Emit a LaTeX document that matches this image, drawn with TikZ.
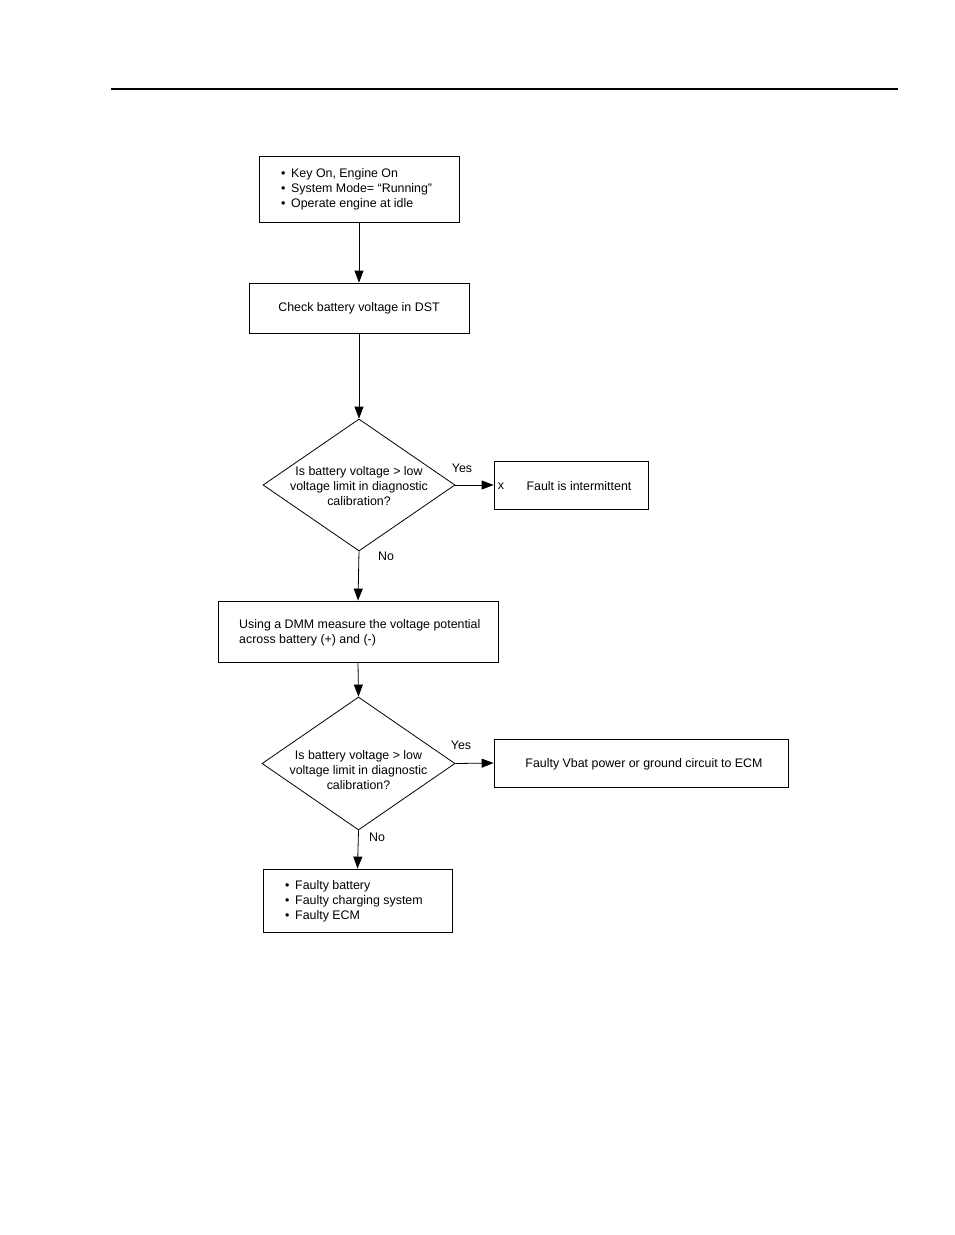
\documentclass[tikz,border=0pt]{standalone}
\usepackage{fontspec}
\setmainfont{Liberation Sans}
\usetikzlibrary{shapes.geometric,arrows.meta}
\newcommand{\bl}{\makebox[10pt][l]{\textbullet}}
\begin{document}
\begin{tikzpicture}[x=1pt,y=-1pt,
  every node/.style={font=\fontsize{12.4}{15}\selectfont},
  box/.style={draw,line width=0.8pt,rectangle,inner sep=0pt},
  dia/.style={draw,line width=0.8pt,diamond,inner sep=0pt},
  txt/.style={inner sep=0pt,align=center},
  lbl/.style={inner sep=0pt},
  arr/.style={line width=0.8pt,-{Triangle[length=12pt,width=9pt]}},
  bul/.style={inner sep=0pt,align=left,anchor=west}]
\useasboundingbox (0,0) rectangle (954,1235);
\fill[white] (0,0) rectangle (954,1235);
\coordinate (hl) at (111,89);
\coordinate (hr) at (898,89);
\draw[line width=1.3pt] (hl) -- (hr);

% Box 1
\node[box,minimum width=200pt,minimum height=66pt] (b1) at (359,189) {};
\node[bul] (t1) at (281,189) {\bl Key On, Engine On\\\bl System Mode= “Running”\\\bl Operate engine at idle};

% Box 2
\node[box,minimum width=220pt,minimum height=50pt] (b2) at (359,308) {};
\node[txt] (t2) at (359,308) {Check battery voltage in DST};

% Diamond 1
\node[dia,minimum width=192pt,minimum height=132pt] (d1) at (359,485) {};
\node[txt] (td1) at (359,486) {Is battery voltage > low\\voltage limit in diagnostic\\calibration?};

% Box 3
\node[box,minimum width=154pt,minimum height=48pt] (b3) at (571,485) {};
\node[lbl] (x3) at (501,486) {x};
\node[txt] (t3) at (579,486) {Fault is intermittent};

% Box 4
\node[box,minimum width=280pt,minimum height=61pt] (b4) at (358,631.5) {};
\node[bul] (t4) at (239,632.5) {Using a DMM measure the voltage potential\\across battery (+) and (-)};

% Diamond 2
\node[dia,minimum width=193pt,minimum height=133pt] (d2) at (358.5,763.5) {};
\node[txt] (td2) at (358.5,770) {Is battery voltage > low\\voltage limit in diagnostic\\calibration?};

% Box 5
\node[box,minimum width=294pt,minimum height=48pt] (b5) at (641,763) {};
\node[txt] (t5) at (644,764) {Faulty Vbat power or ground circuit to ECM};

% Box 6
\node[box,minimum width=189pt,minimum height=63pt] (b6) at (357.5,900.5) {};
\node[bul] (t6) at (285,901) {\bl Faulty battery\\\bl Faulty charging system\\\bl Faulty ECM};

% Labels
\node[lbl] (y1) at (462,468) {Yes};
\node[lbl] (n1) at (386,556) {No};
\node[lbl] (y2) at (461,745) {Yes};
\node[lbl] (n2) at (377,837) {No};

% Connectors
\draw[arr] (b1.south) -- (b2.north);
\draw[arr] (b2.south) -- (d1.north);
\draw[arr] (d1.east) -- (b3.west);
\draw[arr] (d1.south) -- (b4.north);
\draw[arr] (b4.south) -- (d2.north);
\draw[arr] (d2.east) -- (b5.west);
\draw[arr] (d2.south) -- (b6.north);
\end{tikzpicture}
\end{document}
